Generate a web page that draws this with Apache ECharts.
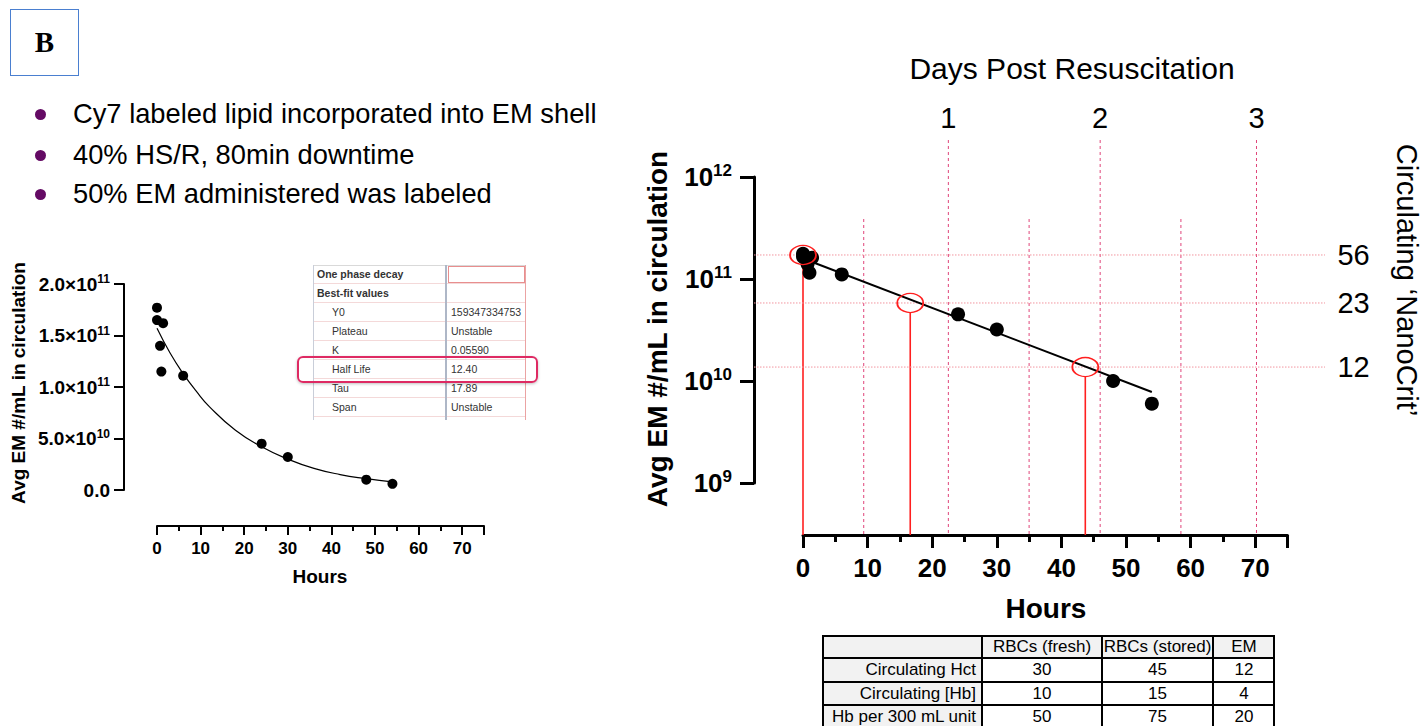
<!DOCTYPE html>
<html><head><meta charset="utf-8"><title>EM circulation half-life</title>
<script src="https://cdn.jsdelivr.net/npm/echarts@6.0.0/dist/echarts.min.js"></script>
<style>
html,body{margin:0;padding:0;background:#fff;}
#wrap{position:relative;width:1424px;height:726px;overflow:hidden;font-family:"Liberation Sans",Arial,Helvetica,sans-serif;}
#chart{position:absolute;left:0;top:0;width:1424px;height:726px;}
.abs{position:absolute;box-sizing:border-box;white-space:nowrap;}
</style></head><body>
<div id="wrap"><div id="chart"></div><div id="ov"></div></div>
<script>
// ---------- DATA ----------
const hours      = [0, 0, 0.7, 1, 1.4, 6, 24, 30, 48, 54];
const emPerMl    = [1.77e11, 1.65e11, 1.40e11, 1.15e11, 1.62e11, 1.11e11, 4.5e10, 3.2e10, 1.0e10, 6.0e9];
const fitHours   = [0, 3, 6, 9, 12, 18, 24, 30, 36, 42, 48, 54];
const fitValues  = [1.57e11, 1.33e11, 1.13e11, 0.96e11, 0.81e11, 0.58e11, 0.42e11, 0.30e11, 0.21e11, 0.15e11, 0.11e11, 0.078e11];
const logFitHours  = [0, 54];
const logFitValues = [1.59e11, 7.8e9];
const circleHours  = [0, 16.6, 43.7];
const circleValues = [1.72e11, 5.82e10, 1.37e10];
const nanoCritLabels = ['56', '23', '12'];
const dayHours   = [22.5, 46.0, 70.2];
const dayLabels  = ['1', '2', '3'];
const halfDayHours = [9.4, 35.0, 58.5];
const bulletTexts = ['Cy7 labeled lipid incorporated into EM shell', '40% HS/R, 80min downtime', '50% EM administered was labeled'];
const fitTableLabels = ['One phase decay', 'Best-fit values', 'Y0', 'Plateau', 'K', 'Half Life', 'Tau', 'Span'];
const fitTableValues = ['', '', '159347334753', 'Unstable', '0.05590', '12.40', '17.89', 'Unstable'];
const tableHeaders = ['', 'RBCs (fresh)', 'RBCs (stored)', 'EM'];
const tableRowLabels = ['Circulating Hct', 'Circulating [Hb]', 'Hb per 300 mL unit'];
const rbcFresh  = [30, 10, 50];
const rbcStored = [45, 15, 75];
const emCol     = [12, 4, 20];

// ---------- OVERLAY (HTML text blocks) ----------
const FONT = '"Liberation Sans", Arial, Helvetica, sans-serif';
const ov = document.getElementById('ov');
function el(style, text, parent) {
  const d = document.createElement('div');
  d.className = 'abs';
  Object.assign(d.style, style);
  if (text !== undefined) d.textContent = text;
  (parent || ov).appendChild(d);
  return d;
}
// panel letter
el({left:'10px', top:'9px', width:'69px', height:'67px', border:'1px solid #4a7fd0', fontFamily:'"Liberation Serif","Times New Roman",serif', fontWeight:'bold', fontSize:'29px', lineHeight:'65px', textAlign:'center', color:'#000'}, 'B');
// bullets
const bulletY = [114, 155, 194];
bulletTexts.forEach((t, i) => {
  el({left:'35px', top:(bulletY[i]-5.5)+'px', width:'11px', height:'11px', borderRadius:'50%', background:'#640a64'});
  el({left:'73px', top:(bulletY[i]-17)+'px', height:'34px', lineHeight:'34px', fontSize:'27.3px', color:'#000', fontFamily:FONT}, t);
});
// inset fit table
const itLeft = 313, itDiv = 446, itRight = 525, itTop = 264.5, itRow = 19.1;
const itBottom = itTop + itRow * fitTableLabels.length + 3;
el({left:itLeft+'px', top:itTop+'px', width:(itRight-itLeft)+'px', height:(itBottom-itTop)+'px', background:'#fff', borderTop:'1px solid #d9d9d9'});
fitTableLabels.forEach((lab, i) => {
  const y = itTop + i * itRow;
  el({left:itLeft+'px', top:y+'px', width:(itRight-itLeft)+'px', height:itRow+'px', borderBottom:'1px solid #f4d9d9'});
  const bold = i < 2;
  el({left:(bold ? itLeft+4 : itLeft+19)+'px', top:y+'px', height:itRow+'px', lineHeight:itRow+'px', fontSize:'10.5px', fontWeight: bold ? 'bold' : 'normal', color:'#333', fontFamily:FONT}, lab);
  el({left:(itDiv+5)+'px', top:y+'px', height:itRow+'px', lineHeight:itRow+'px', fontSize:'10.5px', color:'#333', fontFamily:FONT}, fitTableValues[i]);
});
el({left:itLeft+'px', top:itTop+'px', width:'1px', height:(itBottom-itTop)+'px', background:'#c9ced9'});
el({left:(itDiv-1)+'px', top:itTop+'px', width:'1.5px', height:(itBottom-itTop)+'px', background:'#aeb7c7'});
el({left:itRight+'px', top:itTop+'px', width:'1px', height:(itBottom-itTop)+'px', background:'#eba3a3'});
el({left:(itDiv+2)+'px', top:(itTop+1)+'px', width:(itRight-itDiv-2)+'px', height:'17px', border:'1px solid #e88e8e'});
// highlight of half life row
const hlIdx = fitTableLabels.indexOf('Half Life');
el({left:'297px', top:(itTop + hlIdx*itRow - 4.5)+'px', width:'241px', height:'27px', border:'2px solid #de2a63', borderRadius:'6px', boxShadow:'0 1px 3px rgba(0,0,0,0.25)'});

// bottom table
const btCols = [822, 982, 1102, 1213, 1275];
const btRows = [635, 658, 681.5, 705, 729];
const cellVals = [tableHeaders].concat(tableRowLabels.map((r, i) => [r, rbcFresh[i], rbcStored[i], emCol[i]]));
cellVals.forEach((row, r) => {
  row.forEach((v, c) => {
    const grey = (r === 0 || c === 0);
    el({left:btCols[c]+'px', top:btRows[r]+'px', width:(btCols[c+1]-btCols[c])+'px', height:(btRows[r+1]-btRows[r])+'px',
        background: grey ? '#f2f2f2' : '#fff', border:'1px solid #000', fontSize:'17px', fontFamily:FONT, color:'#000',
        lineHeight:(btRows[r+1]-btRows[r]-2)+'px', textAlign: (c === 0 ? 'right' : 'center'), paddingRight: (c === 0 ? '5px' : '0')}, String(v));
  });
});
el({left:btCols[0]+'px', top:btRows[0]+'px', width:(btCols[4]-btCols[0])+'px', height:(btRows[4]-btRows[0])+'px', border:'2px solid #000'});

// ---------- CHART ----------
const chart = echarts.init(document.getElementById('chart'), null, {renderer:'svg'});
const sciFmt = v => {
  if (v === 0) return '{b|0.0}';
  const e = Math.floor(Math.log10(v) + 1e-9);
  const m = (v / Math.pow(10, e)).toFixed(1);
  return '{b|' + m + '×10}{s|' + e + '}';
};
const logFmt = v => '{b|10}{s|' + Math.round(Math.log10(v)) + '}';
const RX_OFF = 52, RY_OFF = 49;

function axisX(grid, offset, lw, tlen, fs, margin) {
  return [
    {gridIndex:grid, type:'value', position:'bottom', min:0, max:75, interval:10, offset:offset,
     axisLine:{show:true, onZero:false, lineStyle:{color:'#000', width:lw}},
     axisTick:{show:true, length:tlen, lineStyle:{color:'#000', width:lw}},
     axisLabel:{margin:margin, fontSize:fs, fontWeight:'bold', color:'#000', fontFamily:FONT, formatter:v => (v % 10 === 0 ? String(v) : '')},
     splitLine:{show:false}},
    {gridIndex:grid, type:'value', position:'bottom', min:0, max:75, interval:5, offset:offset,
     axisLine:{show:false, onZero:false}, axisTick:{show:true, length:Math.round(tlen*0.55), lineStyle:{color:'#000', width:lw}},
     axisLabel:{show:false}, splitLine:{show:false}}
  ];
}

const option = {
  animation:false,
  grid:[
    {left:157, top:284, width:327, height:206, containLabel:false, outerBoundsMode:'none'},
    {left:803, top:177, width:484.5, height:306, containLabel:false, outerBoundsMode:'none'}
  ],
  xAxis: axisX(0, 36, 2, 9, 17, 14).concat(axisX(1, RX_OFF, 3, 13, 26, 20)),
  yAxis:[
    {gridIndex:0, type:'value', min:0, max:2e11, interval:5e10, offset:33,
     axisLine:{show:true, onZero:false, lineStyle:{color:'#000', width:2}},
     axisTick:{show:true, length:10, lineStyle:{color:'#000', width:2}},
     axisLabel:{margin:14, formatter:sciFmt, rich:{
       b:{fontSize:19, fontWeight:'bold', color:'#000', fontFamily:FONT, lineHeight:22},
       s:{fontSize:12, fontWeight:'bold', color:'#000', fontFamily:FONT, lineHeight:12, verticalAlign:'top'}}},
     splitLine:{show:false}},
    {gridIndex:1, type:'log', logBase:10, min:1e9, max:1e12, offset:RY_OFF,
     axisLine:{show:true, onZero:false, lineStyle:{color:'#000', width:3}},
     axisTick:{show:true, length:14, lineStyle:{color:'#000', width:3}},
     axisLabel:{margin:22, formatter:logFmt, rich:{
       b:{fontSize:26, fontWeight:'bold', color:'#000', fontFamily:FONT, lineHeight:30},
       s:{fontSize:17, fontWeight:'bold', color:'#000', fontFamily:FONT, lineHeight:18, verticalAlign:'top'}}},
     splitLine:{show:false}, minorTick:{show:false}}
  ],
  series:[
    // left: linear chart
    {type:'line', xAxisIndex:0, yAxisIndex:0, data:fitHours.map((h,i)=>[h, fitValues[i]]), smooth:true, symbol:'none',
     lineStyle:{color:'#000', width:1.2}, z:3, silent:true},
    {type:'scatter', xAxisIndex:0, yAxisIndex:0, data:hours.map((h,i)=>[h, emPerMl[i]]), symbolSize:10,
     itemStyle:{color:'#000', opacity:1}, z:5, silent:true},
    // right: day lines
    {type:'custom', xAxisIndex:2, yAxisIndex:1, data:dayHours.map(h=>[h]), encode:{x:0}, z:1, silent:true,
     renderItem:(params, api) => {
       const cs = params.coordSys; const x = api.coord([api.value(0), 1e10])[0];
       return {type:'group', children:[
         {type:'line', shape:{x1:x, y1:cs.y-37, x2:x, y2:cs.y+cs.height+RX_OFF}, style:{stroke:'#e0457a', lineWidth:1, lineDash:[3,3]}},
         {type:'text', x:x, y:cs.y-59, style:{text:dayLabels[params.dataIndex], fontSize:29, fontFamily:FONT, fill:'#000', align:'center', verticalAlign:'middle'}}
       ]};
     }},
    {type:'custom', xAxisIndex:2, yAxisIndex:1, data:halfDayHours.map(h=>[h]), encode:{x:0}, z:1, silent:true,
     renderItem:(params, api) => {
       const cs = params.coordSys; const x = api.coord([api.value(0), 1e10])[0];
       return {type:'line', shape:{x1:x, y1:cs.y+42, x2:x, y2:cs.y+cs.height+RX_OFF}, style:{stroke:'#e0457a', lineWidth:1, lineDash:[3,3]}};
     }},
    // right: half-life guide lines and labels
    {type:'custom', xAxisIndex:2, yAxisIndex:1, data:circleHours.map((h,i)=>[h, circleValues[i]]), z:2, silent:true,
     renderItem:(params, api) => {
       const cs = params.coordSys; const p = api.coord([api.value(0), api.value(1)]);
       return {type:'group', children:[
         {type:'line', shape:{x1:cs.x-RY_OFF, y1:p[1], x2:cs.x+cs.width+37.5, y2:p[1]}, style:{stroke:'#f2959f', lineWidth:1, lineDash:[1.5,1.5]}},
         {type:'line', shape:{x1:p[0], y1:p[1]+9, x2:p[0], y2:cs.y+cs.height+RX_OFF}, style:{stroke:'#ff1f1f', lineWidth:1.6}},
         {type:'text', x:cs.x+cs.width+66, y:p[1], style:{text:nanoCritLabels[params.dataIndex], fontSize:29, fontFamily:FONT, fill:'#000', align:'center', verticalAlign:'middle'}}
       ]};
     }},
    {type:'line', xAxisIndex:2, yAxisIndex:1, data:logFitHours.map((h,i)=>[h, logFitValues[i]]), symbol:'none',
     lineStyle:{color:'#000', width:2}, z:3, silent:true},
    {type:'scatter', xAxisIndex:2, yAxisIndex:1, data:hours.map((h,i)=>[h, emPerMl[i]]), symbolSize:14,
     itemStyle:{color:'#000', opacity:1}, z:5, silent:true},
    {type:'scatter', xAxisIndex:2, yAxisIndex:1, data:circleHours.map((h,i)=>[h, circleValues[i]]), symbol:'circle', symbolSize:[26,19],
     itemStyle:{color:'rgba(0,0,0,0)', borderColor:'#ff1f1f', borderWidth:1.6, opacity:1}, z:6, silent:true}
  ],
  graphic:[
    {type:'text', x:320, y:576, style:{text:'Hours', fontSize:19, fontWeight:'bold', fontFamily:FONT, fill:'#000', align:'center', verticalAlign:'middle'}},
    {type:'text', x:18, y:383, rotation:Math.PI/2, style:{text:'Avg EM #/mL in circulation', fontSize:19, fontWeight:'bold', fontFamily:FONT, fill:'#000', align:'center', verticalAlign:'middle'}},
    {type:'text', x:1046, y:608, style:{text:'Hours', fontSize:28, fontWeight:'bold', fontFamily:FONT, fill:'#000', align:'center', verticalAlign:'middle'}},
    {type:'text', x:657, y:329, rotation:Math.PI/2, style:{text:'Avg EM #/mL in circulation', fontSize:28, fontWeight:'bold', fontFamily:FONT, fill:'#000', align:'center', verticalAlign:'middle'}},
    {type:'text', x:1072, y:68, style:{text:'Days Post Resuscitation', fontSize:30, fontFamily:FONT, fill:'#000', align:'center', verticalAlign:'middle'}},
    {type:'text', x:1407, y:280, rotation:-Math.PI/2, style:{text:'Circulating ‘NanoCrit’', fontSize:29, fontFamily:FONT, fill:'#000', align:'center', verticalAlign:'middle'}}
  ]
};
chart.setOption(option);
</script></body></html>
